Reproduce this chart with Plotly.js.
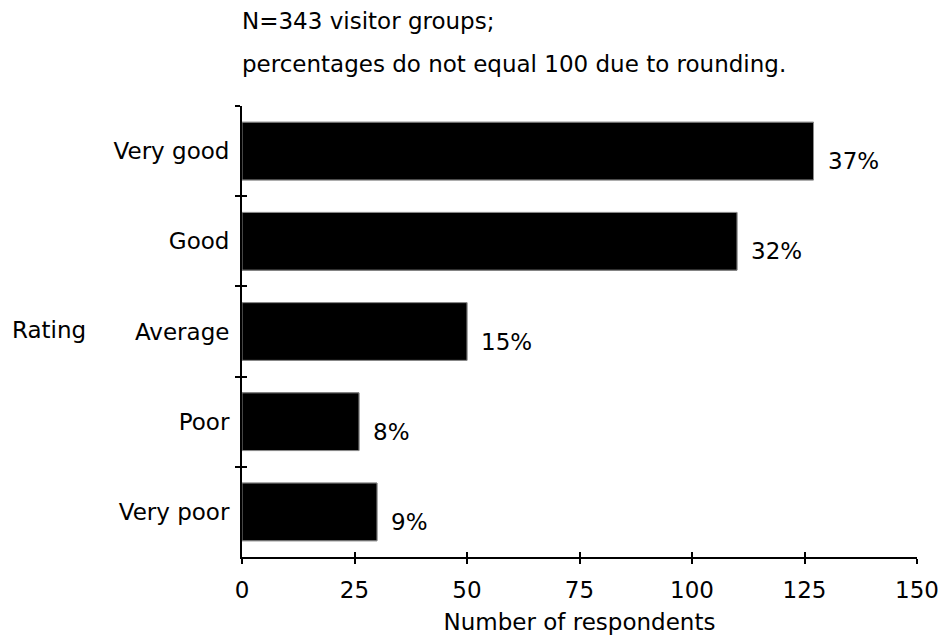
<!DOCTYPE html>
<html>
<head>
<meta charset="utf-8">
<script src="https://cdn.plot.ly/plotly-3.0.1.min.js"></script>
<style>
  html, body { margin: 0; padding: 0; background: #ffffff; }
  #chart { width: 948px; height: 638px; }
</style>
</head>
<body>
<div id="chart"></div>
<script>
// Visitor ratings of the service
const categories = ['Very good', 'Good', 'Average', 'Poor', 'Very poor'];
const respondents = [127, 110, 50, 26, 30];
const percentLabels = ['37%', '32%', '15%', '8%', '9%'];
const xTickValues = [0, 25, 50, 75, 100, 125, 150];

const FONT = 'DejaVu Sans, Verdana, sans-serif';
const FS = 23;

const barStyle = {
  type: 'bar',
  orientation: 'h',
  x: respondents,
  y: categories,
  marker: { color: '#000000', line: { color: '#8c8c8c', width: 1 } },
  hoverinfo: 'skip',
  showlegend: false
};

// main bars, plus an identical copy on the overlay axes that carry the inner half of each tick
const traces = [
  Object.assign({}, barStyle, { xaxis: 'x', yaxis: 'y' }),
  Object.assign({}, barStyle, { xaxis: 'x2', yaxis: 'y2' })
];

const annotations = categories.map((c, i) => ({
  x: respondents[i], y: c, xref: 'x', yref: 'y',
  text: percentLabels[i], showarrow: false,
  xanchor: 'left', yanchor: 'middle', xshift: 12, yshift: -10,
  font: { family: FONT, size: FS, color: '#000' }
}));

annotations.push(
  { xref: 'paper', yref: 'paper', x: 0, y: 1.188, xanchor: 'left', yanchor: 'middle',
    text: 'N=343 visitor groups;', showarrow: false, xshift: -2,
    font: { family: FONT, size: FS, color: '#000' } },
  { xref: 'paper', yref: 'paper', x: 0, y: 1.093, xanchor: 'left', yanchor: 'middle',
    text: 'percentages do not equal 100 due to rounding.', showarrow: false, xshift: -2,
    font: { family: FONT, size: FS, color: '#000' } },
  { xref: 'paper', yref: 'paper', x: -0.2866, y: 0.503, xanchor: 'center', yanchor: 'middle',
    text: 'Rating', showarrow: false,
    font: { family: FONT, size: FS, color: '#000' } }
);

const layout = {
  width: 948,
  height: 638,
  margin: { l: 242, r: 31, t: 106, b: 81, pad: 0 },
  paper_bgcolor: '#ffffff',
  plot_bgcolor: '#ffffff',
  font: { family: FONT, size: FS, color: '#000' },
  bargap: 0.36,
  xaxis: {
    range: [0, 150], tickvals: xTickValues, ticktext: xTickValues.map(String),
    ticks: 'outside', ticklen: 5, tickwidth: 2, tickcolor: '#000',
    ticklabelstandoff: 6,
    showline: true, linewidth: 2, linecolor: '#000',
    showgrid: false, zeroline: false, fixedrange: true,
    tickfont: { family: FONT, size: FS, color: '#000' },
    title: { text: 'Number of respondents', font: { family: FONT, size: FS, color: '#000' }, standoff: 12 },
    anchor: 'y'
  },
  xaxis2: {
    overlaying: 'x', matches: 'x', anchor: 'y', side: 'bottom',
    tickvals: xTickValues,
    ticks: 'inside', ticklen: 5, tickwidth: 2, tickcolor: '#000',
    showticklabels: false, showline: false, showgrid: false, zeroline: false, fixedrange: true
  },
  yaxis: {
    type: 'category', autorange: 'reversed',
    ticks: 'outside', tickson: 'boundaries', ticklen: 5, tickwidth: 2, tickcolor: '#000',
    ticklabelstandoff: 6,
    showline: true, linewidth: 2, linecolor: '#000',
    showgrid: false, zeroline: false, fixedrange: true,
    tickfont: { family: FONT, size: FS, color: '#000' },
    anchor: 'x'
  },
  yaxis2: {
    type: 'category', overlaying: 'y', matches: 'y', anchor: 'x', side: 'left',
    ticks: 'inside', tickson: 'boundaries', ticklen: 5, tickwidth: 2, tickcolor: '#000',
    showticklabels: false, showline: false, showgrid: false, zeroline: false, fixedrange: true
  },
  annotations: annotations
};

Plotly.newPlot('chart', traces, layout, { displayModeBar: false, staticPlot: true });
</script>
</body>
</html>
